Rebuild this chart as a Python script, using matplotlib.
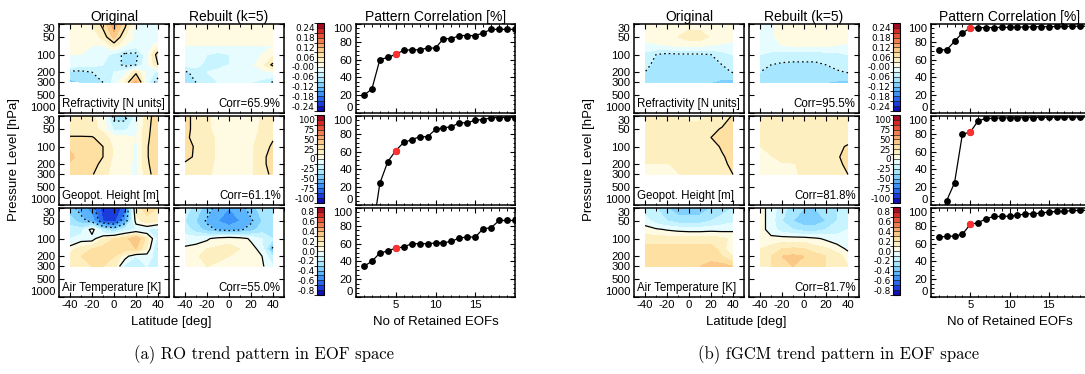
import numpy as np
import matplotlib
matplotlib.use("Agg")
import matplotlib.pyplot as plt
from matplotlib import font_manager
from matplotlib.colors import ListedColormap, BoundaryNorm
from matplotlib.ticker import FixedLocator, MultipleLocator, NullFormatter, NullLocator
import matplotlib.cm as cm

# ---------------------------------------------------------------- data
lat = [-40, -30, -20, -10, 0, 10, 20, 30, 40]
plev = [30, 50, 70, 100, 150, 200, 300]

# RO trend patterns (rows: 30 ... 300 hPa, columns: 40S ... 40N)
ro_refr_orig = [
    [0.02, 0.02, 0.03, 0.07, 0.14, 0.07, -0.01, -0.02, -0.01],
    [0.01, 0.01, 0.01, 0.04, 0.10, 0.03, -0.01, -0.02, -0.02],
    [0.01, 0.01, 0.00, 0.00, 0.04, 0.00, -0.02, -0.02, 0.02],
    [0.00, 0.00, -0.01, -0.02, -0.04, -0.07, -0.07, -0.01, 0.08],
    [-0.01, -0.02, -0.02, -0.03, -0.04, -0.07, -0.06, -0.01, 0.06],
    [-0.07, -0.07, -0.06, -0.05, -0.03, -0.01, 0.05, -0.01, -0.04],
    [-0.10, -0.09, -0.08, -0.06, -0.02, 0.03, 0.13, -0.02, -0.08],
]
ro_refr_rebuilt = [
    [0.01, 0.02, 0.02, 0.02, 0.03, 0.02, 0.02, 0.02, 0.01],
    [0.01, 0.01, 0.02, 0.02, 0.02, 0.01, 0.01, 0.01, 0.01],
    [0.00, 0.00, 0.00, 0.00, 0.00, 0.00, 0.00, 0.00, 0.00],
    [-0.01, -0.02, -0.03, -0.04, -0.03, -0.02, -0.01, 0.00, 0.02],
    [-0.02, -0.02, -0.04, -0.04, -0.03, -0.02, -0.01, 0.02, 0.07],
    [-0.065, -0.05, -0.03, -0.02, -0.02, -0.02, -0.02, -0.01, 0.00],
    [-0.07, -0.06, -0.04, -0.03, -0.02, -0.02, -0.03, -0.04, -0.065],
]
ro_gph_orig = [
    [18, 18, 15, 5, -30, -30, -10, 20, 32],
    [20, 20, 18, 8, -15, -15, -5, 22, 32],
    [26, 26, 26, 20, 5, 5, 0, 23, 32],
    [36, 33, 30, 25, 10, 10, -5, 24, 33],
    [40, 34, 30, 25, 10, 10, -5, 24, 33],
    [36, 32, 29, 22, 8, 8, -5, 23, 33],
    [32, 29, 26, 18, 6, 8, -5, 22, 30],
]
ro_gph_rebuilt = [
    [28, 22, 15, 8, 2, 0, 5, 15, 20],
    [28, 22, 15, 8, 3, 2, 6, 15, 22],
    [27, 22, 17, 10, 5, 5, 8, 17, 24],
    [28, 24, 18, 10, 6, 6, 10, 20, 27],
    [27, 24, 18, 10, 6, 6, 10, 22, 30],
    [24, 22, 17, 9, 5, 5, 10, 22, 30],
    [22, 20, 15, 8, 4, 5, 10, 20, 28],
]
ro_temp_orig = [
    [-0.35, -0.45, -0.55, -0.75, -0.80, -0.65, 0.15, 0.25, 0.20],
    [-0.25, -0.35, -0.45, -0.70, -0.75, -0.50, 0.05, 0.15, 0.10],
    [-0.15, -0.15, 0.05, -0.20, -0.30, -0.15, -0.10, -0.10, -0.15],
    [-0.10, -0.05, -0.05, 0.10, 0.20, 0.25, 0.40, 0.15, -0.15],
    [0.05, 0.15, 0.20, 0.25, 0.25, 0.25, 0.30, 0.10, -0.25],
    [0.15, 0.20, 0.25, 0.25, 0.20, 0.05, -0.10, -0.05, -0.15],
    [0.15, 0.20, 0.20, 0.20, 0.15, -0.15, -0.20, -0.10, -0.10],
]
ro_temp_rebuilt = [
    [-0.15, -0.25, -0.35, -0.45, -0.50, -0.45, -0.35, -0.25, -0.20],
    [-0.20, -0.30, -0.42, -0.50, -0.55, -0.50, -0.42, -0.30, -0.20],
    [-0.15, -0.25, -0.35, -0.42, -0.45, -0.42, -0.35, -0.25, -0.20],
    [-0.05, -0.05, -0.02, 0.05, 0.08, 0.05, -0.02, -0.10, -0.20],
    [0.02, 0.05, 0.10, 0.12, 0.12, 0.10, 0.05, -0.05, -0.45],
    [0.05, 0.08, 0.15, 0.12, 0.10, 0.08, 0.05, 0.00, -0.20],
    [0.05, 0.08, 0.10, 0.08, 0.05, 0.05, 0.03, 0.02, -0.10],
]

# fGCM trend patterns
gcm_refr_orig = [
    [0.015, 0.015, 0.015, 0.02, 0.02, 0.02, 0.015, 0.015, 0.015],
    [0.01, 0.015, 0.02, 0.03, 0.045, 0.045, 0.025, 0.015, 0.01],
    [-0.01, -0.005, 0.0, 0.005, 0.005, 0.005, 0.0, -0.005, -0.01],
    [-0.04, -0.06, -0.07, -0.065, -0.065, -0.065, -0.06, -0.045, -0.03],
    [-0.05, -0.07, -0.08, -0.08, -0.08, -0.08, -0.075, -0.06, -0.045],
    [-0.06, -0.075, -0.08, -0.085, -0.085, -0.085, -0.08, -0.07, -0.058],
    [-0.07, -0.08, -0.085, -0.09, -0.09, -0.09, -0.09, -0.10, -0.11],
]
gcm_refr_rebuilt = [
    [-0.01, -0.005, 0.01, 0.015, 0.015, 0.015, 0.015, 0.012, 0.01],
    [-0.01, -0.005, 0.01, 0.015, 0.02, 0.02, 0.015, 0.012, 0.01],
    [-0.015, -0.01, 0.0, 0.005, 0.005, 0.005, 0.005, 0.0, -0.005],
    [-0.03, -0.04, -0.045, -0.05, -0.05, -0.05, -0.045, -0.04, -0.03],
    [-0.05, -0.06, -0.065, -0.065, -0.065, -0.065, -0.06, -0.05, -0.045],
    [-0.06, -0.07, -0.075, -0.075, -0.075, -0.075, -0.07, -0.065, -0.058],
    [-0.08, -0.085, -0.09, -0.09, -0.09, -0.09, -0.09, -0.095, -0.10],
]
gcm_gph_orig = [
    [20, 20, 18, 15, 10, 10, 15, 20, 26],
    [20, 20, 20, 18, 16, 18, 22, 26, 28],
    [20, 20, 20, 20, 20, 20, 25, 28, 30],
    [18, 20, 20, 20, 20, 20, 22, 26, 30],
    [16, 18, 20, 20, 20, 20, 22, 24, 28],
    [12, 12, 12, 14, 16, 18, 20, 23, 27],
    [10, 10, 11, 12, 14, 16, 18, 22, 25],
]
gcm_gph_rebuilt = [
    [18, 20, 20, 20, 20, 20, 20, 20, 20],
    [18, 20, 20, 20, 20, 20, 20, 20, 20],
    [15, 18, 20, 20, 20, 20, 20, 21, 22],
    [12, 16, 18, 19, 20, 20, 21, 23, 26],
    [10, 12, 14, 15, 16, 18, 20, 24, 28],
    [10, 11, 12, 12, 14, 16, 19, 23, 27],
    [10, 10, 11, 12, 13, 15, 18, 22, 25],
]
gcm_temp_orig = [
    [-0.15, -0.20, -0.30, -0.35, -0.35, -0.35, -0.30, -0.25, -0.20],
    [-0.05, -0.15, -0.20, -0.25, -0.25, -0.25, -0.20, -0.15, -0.12],
    [0.05, 0.02, -0.01, -0.03, -0.04, -0.04, -0.03, -0.03, -0.02],
    [0.15, 0.15, 0.15, 0.15, 0.15, 0.15, 0.15, 0.12, 0.08],
    [0.25, 0.25, 0.25, 0.25, 0.25, 0.25, 0.25, 0.15, 0.00],
    [0.22, 0.25, 0.25, 0.25, 0.25, 0.25, 0.25, 0.20, 0.10],
    [0.22, 0.25, 0.25, 0.25, 0.25, 0.30, 0.35, 0.35, 0.30],
]
gcm_temp_rebuilt = [
    [0.05, -0.05, -0.15, -0.25, -0.30, -0.30, -0.25, -0.20, -0.15],
    [0.05, -0.05, -0.20, -0.30, -0.35, -0.35, -0.30, -0.20, -0.15],
    [0.05, -0.05, -0.15, -0.20, -0.25, -0.25, -0.20, -0.15, -0.10],
    [0.08, 0.03, 0.05, 0.05, 0.05, 0.02, -0.02, -0.05, -0.08],
    [0.10, 0.15, 0.20, 0.22, 0.20, 0.15, 0.12, 0.05, -0.02],
    [0.15, 0.20, 0.30, 0.32, 0.30, 0.25, 0.20, 0.15, 0.05],
    [0.15, 0.20, 0.25, 0.30, 0.28, 0.25, 0.20, 0.15, 0.10],
]

# pattern correlation [%] against number of retained EOFs
n_eofs = [1, 2, 3, 4, 5, 6, 7, 8, 9, 10, 11, 12, 13, 14, 15, 16, 17, 18, 19, 20]
ro_corr_refr = [20, 27, 60, 62.5, 65.9, 70.5, 71, 71, 73, 73, 83.5, 83.5, 87, 87, 87,
                90, 94, 94, 94, 94]
ro_corr_gph = [-60, -35, 24.4, 48.7, 61.1, 70.3, 73.3, 76.7, 76.7, 84.9, 86.8, 87.9,
               92.4, 92.4, 95.3, 96, 98, 98.3, 98.3, 98.3]
ro_corr_temp = [34.5, 40.1, 49.4, 51.7, 55.0, 56.2, 59.9, 59.9, 59.9, 60.7, 61, 62.5,
                66.3, 67.4, 67.4, 76.7, 77.8, 86, 86, 86]
gcm_corr_refr = [71, 71, 80.5, 90, 95.5, 95.8, 96, 96, 96.2, 96.3, 96.5, 96.6, 96.8,
                 97, 97, 97.2, 97.3, 97.4, 97.5, 97.6]
gcm_corr_gph = [-20, 5, 25, 79.7, 81.8, 94.6, 97.2, 97.5, 97.8, 98, 98, 98.2, 98.3,
                98.4, 98.5, 98.6, 98.6, 98.7, 98.8, 98.8]
gcm_corr_temp = [67.4, 68.1, 68.5, 70.4, 81.7, 83.4, 87.9, 90.5, 90.5, 90.9, 91.6, 93.5,
                 93.5, 94.3, 95.4, 96.1, 96.1, 97.2, 97.2, 97.5]
k_retained = 5

var_names = ["Refractivity [N units]", "Geopot. Height [m]", "Air Temperature [K]"]
bin_width = [0.03, 12.5, 0.1]
cbar_labels = [
    ["-0.24", "-0.18", "-0.12", "-0.06", "-0.00", "0.06", "0.12", "0.18", "0.24"],
    ["-100", "-75", "-50", "-25", "0", "25", "50", "75", "100"],
    ["-0.8", "-0.6", "-0.4", "-0.2", "0.0", "0.2", "0.4", "0.6", "0.8"],
]
pressure_ticks = [30, 50, 100, 200, 300, 500, 1000]
lat_ticks = [-40, -20, 0, 20, 40]
eof_ticks = [5, 10, 15]
corr_ticks = [0, 20, 40, 60, 80, 100]

# ---------------------------------------------------------------- style
colors = ['#1010b4', '#1a3cdc', '#2868f0', '#3c94f8', '#5ab4ff', '#80d0ff',
          '#a6e6ff', '#c8f4ff', '#e6fcff',
          '#fffbe2', '#fdefc0', '#fde0a2', '#fcc888', '#f9a86a', '#f47e50',
          '#ea5038', '#d62626', '#a40a22']
cmap = ListedColormap(colors)
line_levels = [[-0.06, 0.06], [-25, 25], [-0.6, -0.4, 0.0]]

names = {f.name for f in font_manager.fontManager.ttflist}
sans = 'Liberation Sans' if 'Liberation Sans' in names else 'DejaVu Sans'
narrow = 'Liberation Sans Narrow' if 'Liberation Sans Narrow' in names else sans
plt.rcParams['font.family'] = sans
plt.rcParams['axes.linewidth'] = 1.1
plt.rcParams['axes.unicode_minus'] = False

W, H = 1085, 374
fig = plt.figure(figsize=(W / 100, H / 100), dpi=100)


def add_px_axes(x0, y0, x1, y1):
    return fig.add_axes([x0 / W, 1 - y1 / H, (x1 - x0) / W, (y1 - y0) / H])


def style_ticks(ax, right=True):
    ax.tick_params(which='both', direction='in', top=True, right=right,
                   labelsize=8.2, pad=2.5)
    ax.tick_params(which='major', length=3.5, width=0.8)
    ax.tick_params(which='minor', length=1.8, width=0.7)
    for lab in ax.get_xticklabels() + ax.get_yticklabels():
        lab.set_family(narrow)


def edge_align(ax, labels_on):
    # keep the end labels of the vertical axis inside the frame
    if not labels_on:
        return
    labs = ax.get_yticklabels()
    lo, hi = ax.get_ylim()
    for t, lab in zip(ax.get_yticks(), labs):
        if np.isclose(t, max(lo, hi)):
            lab.set_va('top' if hi > lo else 'bottom')
        elif np.isclose(t, min(lo, hi)):
            lab.set_va('bottom' if hi > lo else 'top')


def draw_map(ax, field, row, show_y, show_x):
    z = np.array(field, dtype=float)
    bounds = np.arange(-9, 10) * bin_width[row]
    norm = BoundaryNorm(bounds, cmap.N)
    ax.contourf(lat, plev, z, levels=bounds, cmap=cmap, norm=norm)
    lv = line_levels[row]
    neg = [v for v in lv if v < 0 and z.min() < v < z.max()]
    pos = [v for v in lv if v >= 0 and z.min() < v < z.max()]
    if neg:
        ax.contour(lat, plev, z, levels=neg, colors='k', linewidths=0.9,
                   linestyles=[(0, (1.3, 2.4))])
    if pos:
        ax.contour(lat, plev, z, levels=pos, colors='k', linewidths=0.9,
                   linestyles='solid')
    ax.set_yscale('log')
    ax.set_ylim(1000, 30)
    ax.set_xlim(-50, 50)
    ax.yaxis.set_major_locator(FixedLocator(pressure_ticks))
    ax.yaxis.set_minor_locator(NullLocator())
    ax.yaxis.set_major_formatter(plt.FixedFormatter([str(p) for p in pressure_ticks]))
    ax.xaxis.set_major_locator(FixedLocator(lat_ticks))
    ax.xaxis.set_minor_locator(MultipleLocator(10))
    if not show_y:
        ax.yaxis.set_major_formatter(NullFormatter())
    if not show_x:
        ax.xaxis.set_major_formatter(NullFormatter())
    style_ticks(ax)
    edge_align(ax, show_y)


def draw_colorbar(cax, row):
    bounds = np.arange(-9, 10) * bin_width[row]
    sm = cm.ScalarMappable(norm=BoundaryNorm(bounds, cmap.N), cmap=cmap)
    cb = fig.colorbar(sm, cax=cax, boundaries=bounds, ticks=bounds[1:18:2],
                      drawedges=True)
    cb.set_ticklabels(cbar_labels[row])
    cb.outline.set_linewidth(0.8)
    cb.dividers.set_linewidth(0.5)
    cb.dividers.set_color('#202020')
    cax.yaxis.set_ticks_position('left')
    cax.tick_params(length=0, labelsize=6.4, pad=1.5)
    for lab in cax.get_yticklabels():
        lab.set_family('DejaVu Sans')


def draw_corr(ax, corr, show_x, right=True):
    ax.plot(n_eofs, corr, color='k', lw=0.9, marker='o', ms=3.9, zorder=3,
            clip_on=True)
    i = n_eofs.index(k_retained)
    ax.plot(n_eofs[i], corr[i], 'o', color='#ff3030', ms=4.3, zorder=4)
    ax.set_xlim(0, 20)
    ax.set_ylim(0, 100)
    ax.xaxis.set_major_locator(FixedLocator(eof_ticks))
    ax.xaxis.set_minor_locator(MultipleLocator(1))
    ax.yaxis.set_major_locator(FixedLocator(corr_ticks))
    ax.yaxis.set_minor_locator(MultipleLocator(5))
    if not show_x:
        ax.xaxis.set_major_formatter(NullFormatter())
    style_ticks(ax, right=right)
    edge_align(ax, True)


rows_px = [(24, 113), (116, 205), (208, 297)]
panels = [
    dict(orig=(59, 169), reb=(174, 284), cbar=(317, 324), corr=(356, 515),
         fields=[(ro_refr_orig, ro_refr_rebuilt), (ro_gph_orig, ro_gph_rebuilt),
                 (ro_temp_orig, ro_temp_rebuilt)],
         corrs=[ro_corr_refr, ro_corr_gph, ro_corr_temp],
         caption="(a) RO trend pattern in EOF space", ylab_x=14, right=True),
    dict(orig=(634, 744), reb=(749, 859), cbar=(893, 900), corr=(931, 1088),
         fields=[(gcm_refr_orig, gcm_refr_rebuilt), (gcm_gph_orig, gcm_gph_rebuilt),
                 (gcm_temp_orig, gcm_temp_rebuilt)],
         corrs=[gcm_corr_refr, gcm_corr_gph, gcm_corr_temp],
         caption="(b) fGCM trend pattern in EOF space", ylab_x=589, right=False),
]

for pnl in panels:
    for row, (y0, y1) in enumerate(rows_px):
        last = row == 2
        orig, reb = pnl['fields'][row]
        corr = pnl['corrs'][row]

        ax_o = add_px_axes(pnl['orig'][0], y0, pnl['orig'][1], y1)
        draw_map(ax_o, orig, row, True, last)
        ax_o.text(0.03, 0.035, var_names[row], transform=ax_o.transAxes,
                  fontsize=8.3, ha='left', va='bottom')

        ax_r = add_px_axes(pnl['reb'][0], y0, pnl['reb'][1], y1)
        draw_map(ax_r, reb, row, False, last)
        kcorr = corr[n_eofs.index(k_retained)]
        ax_r.text(0.97, 0.035, f"Corr={kcorr:.1f}%", transform=ax_r.transAxes,
                  fontsize=8.3, ha='right', va='bottom')

        cax = add_px_axes(pnl['cbar'][0], y0 - 1, pnl['cbar'][1], y1 - 2)
        draw_colorbar(cax, row)

        ax_c = add_px_axes(pnl['corr'][0], y0, pnl['corr'][1], y1)
        draw_corr(ax_c, corr, last, right=pnl['right'])

        if row == 0:
            ax_o.set_title("Original", fontsize=10, pad=2.5)
            ax_r.set_title(f"Rebuilt (k={k_retained})", fontsize=10, pad=2.5)
            ax_c.set_title("Pattern Correlation [%]", fontsize=10, pad=2.5)

    xm = (pnl['orig'][0] + pnl['reb'][1]) / 2
    fig.text(xm / W, 1 - 322 / H, "Latitude [deg]", fontsize=9.5,
             ha='center', va='center')
    xc = (pnl['corr'][0] + pnl['corr'][1]) / 2
    fig.text(xc / W, 1 - 322 / H, "No of Retained EOFs", fontsize=9.5,
             ha='center', va='center')
    fig.text(pnl['ylab_x'] / W, 1 - 160 / H, "Pressure Level [hPa]", fontsize=9.5,
             ha='center', va='center', rotation=90)
    xcap = (pnl['orig'][0] - 45 + pnl['corr'][1]) / 2
    fig.text(xcap / W, 1 - 355 / H, pnl['caption'], fontsize=12,
             family=['cmr10', 'DejaVu Serif'], ha='center', va='center')

fig.savefig("out.png", dpi=100)
